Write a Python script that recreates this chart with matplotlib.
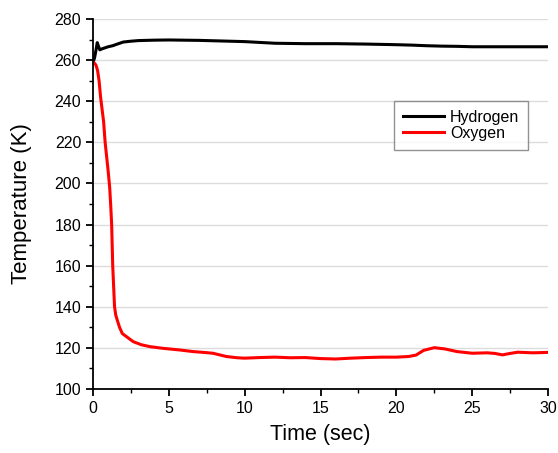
import matplotlib
matplotlib.use('Agg')
import matplotlib.pyplot as plt
from matplotlib.ticker import MultipleLocator

plt.rcParams['font.family'] = ['Liberation Sans', 'DejaVu Sans']

# hydrogen temperature (K) vs time (sec)
h2_time = [0, 0.1, 0.2, 0.28, 0.35, 0.45, 0.6, 0.8, 1.0, 1.3, 1.6, 2.0, 2.5, 3, 4, 5,
           6, 7, 8, 9, 10, 11, 12, 14, 16, 18, 20, 21, 22, 23, 24, 25, 27, 30]
h2_temp = [259, 261, 265, 268.5, 267, 265, 265.5, 266, 266.5, 267, 267.8, 268.8, 269.2,
           269.5, 269.7, 269.8, 269.7, 269.6, 269.4, 269.2, 269, 268.6, 268.2, 268, 268,
           267.8, 267.5, 267.3, 267, 266.8, 266.7, 266.5, 266.5, 266.5]

# oxygen temperature (K) vs time (sec)
o2_time = [0, 0.1, 0.2, 0.3, 0.4, 0.5, 0.6, 0.7, 0.8, 0.9, 1.0, 1.1, 1.17, 1.23, 1.3,
           1.36, 1.42, 1.5, 1.6, 1.75, 1.93, 2.2, 2.66, 3.2, 3.76, 4.6, 5.7, 6.6, 7.3,
           7.9, 8.8, 9.5, 10, 11, 12, 13, 14, 15, 16, 17, 18, 19, 20, 20.8, 21.3, 21.8,
           22.5, 23.2, 24, 24.5, 25, 26, 26.5, 27, 27.5, 28, 29, 30]
o2_temp = [259, 258.5, 257.5, 255, 250, 242, 236, 230, 220, 213, 206, 198, 189, 180, 160,
           150, 140, 136, 133.5, 130, 127, 125.5, 123, 121.5, 120.6, 119.8, 119, 118.2,
           117.8, 117.4, 115.8, 115.2, 115, 115.3, 115.5, 115.2, 115.3, 114.8, 114.6, 115,
           115.3, 115.5, 115.5, 115.8, 116.5, 118.8, 120.1, 119.5, 118.2, 117.8, 117.4,
           117.6, 117.3, 116.6, 117.3, 117.9, 117.6, 117.8]

fig = plt.figure(figsize=(5.58, 4.53), dpi=100)
ax = fig.add_axes([93 / 558, 64 / 453, 455 / 558, 370 / 453])

ax.plot(h2_time, h2_temp, color='black', lw=2.2, label='Hydrogen')
ax.plot(o2_time, o2_temp, color='#ff0000', lw=2.2, label='Oxygen')

ax.set_xlim(0, 30)
ax.set_ylim(100, 280)
ax.xaxis.set_major_locator(MultipleLocator(5))
ax.xaxis.set_minor_locator(MultipleLocator(2.5))
ax.yaxis.set_major_locator(MultipleLocator(20))
ax.yaxis.set_minor_locator(MultipleLocator(10))
ax.grid(axis='y', color='#dcdcdc', lw=1)
ax.set_axisbelow(True)

for s in ['top', 'right']:
    ax.spines[s].set_visible(False)
for s in ['left', 'bottom']:
    ax.spines[s].set_linewidth(1.3)
ax.tick_params(which='major', direction='out', length=5, width=1.3, labelsize=11.5, colors='black')
ax.tick_params(which='minor', direction='out', length=3, width=1.0)

ax.set_xlabel('Time (sec)', fontsize=15.5, labelpad=6)
ax.set_ylabel('Temperature (K)', fontsize=16, labelpad=16)

leg = ax.legend(loc='upper right', bbox_to_anchor=(0.956, 0.778), borderaxespad=0,
                fontsize=11.5, frameon=True, fancybox=False, handlelength=2.6,
                handletextpad=0.35, labelspacing=0.05, borderpad=0.55)
leg.get_frame().set_edgecolor('#777777')
leg.get_frame().set_linewidth(1.0)

fig.savefig('out.png', dpi=100)
